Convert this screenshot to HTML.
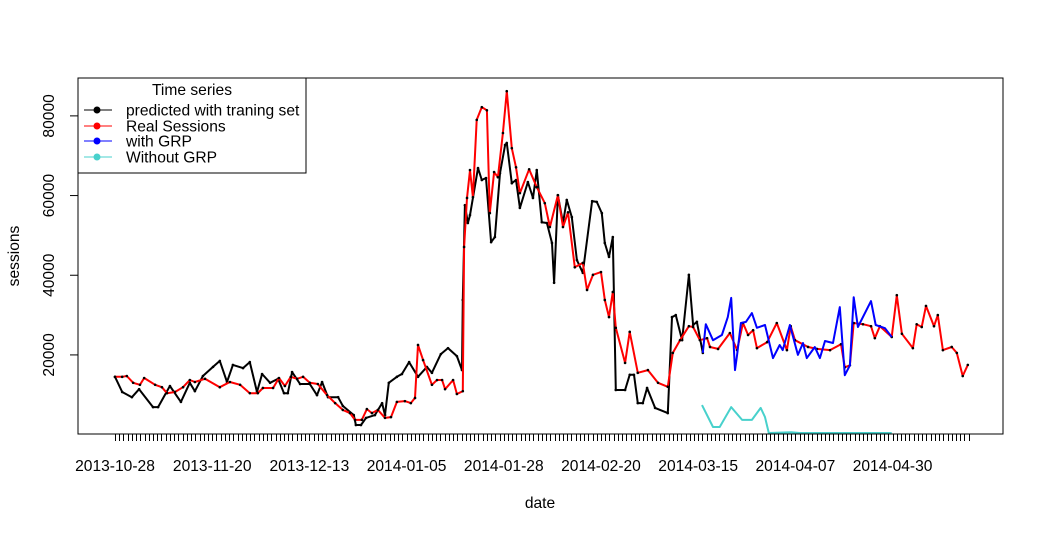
<!DOCTYPE html>
<html><head><meta charset="utf-8"><style>
body{margin:0;background:#fff}
svg text{font-family:"Liberation Sans",Arial,sans-serif;font-size:15.6px;fill:#000}
</style></head><body>
<svg id="chart" width="1045" height="532" viewBox="0 0 1045 532" xmlns="http://www.w3.org/2000/svg">
<rect x="0" y="0" width="1045" height="532" fill="#fff"/>
<g id="marks"></g>
<rect x="78" y="78" width="925" height="356" fill="none" stroke="#000" stroke-width="1"/>
<g id="axes"></g>
<text x="540" y="508" text-anchor="middle">date</text>
<text transform="translate(19,256) rotate(-90)" text-anchor="middle">sessions</text>
<g>
<rect x="78" y="78" width="228" height="95" fill="#fff" stroke="#000"/>
<text x="192" y="95" text-anchor="middle">Time series</text>
<g><line x1="84" y1="110" x2="112" y2="110" stroke="#000"/><circle cx="97" cy="110" r="3.5" fill="#000"/><text x="126" y="115.5">predicted with traning set</text></g>
<g><line x1="84" y1="126" x2="112" y2="126" stroke="#f00"/><circle cx="97" cy="126" r="3.5" fill="#f00"/><text x="126" y="131.5">Real Sessions</text></g>
<g><line x1="84" y1="141" x2="112" y2="141" stroke="#00f"/><circle cx="97" cy="141" r="3.5" fill="#00f"/><text x="126" y="146.5">with GRP</text></g>
<g><line x1="84" y1="157" x2="112" y2="157" stroke="#48d1cc"/><circle cx="97" cy="157" r="3.5" fill="#48d1cc"/><text x="126" y="162.5">Without GRP</text></g>
</g>
</svg>
<script>
// data: days since 2013-10-28, values in thousands of sessions
const predDays=[0,1.7,4,5.7,9,10.2,13,15.6,17.7,18.9,20.8,23.2,24.8,26.5,27.9,30.3,31.9,33.6,34.8,36.7,38.6,40,40.9,41.9,43.8,46.1,47.8,49,50.4,52.8,53.9,56.5,57,58.2,59.4,61.5,63.2,63.9,64.8,66.7,67.9,69.6,71.7,73.8,75,77.1,78.8,80.9,82.1,82.3,82.8,83.5,84,85.9,86.8,87.8,89,89.9,91.1,92.3,92.7,93.9,94.9,95.8,97.7,98.9,99.8,101,102.2,103.4,103.9,104.8,106,106.9,108.1,109.3,110.7,112.9,114,115.2,115.9,116.9,117.8,118.5,120.7,121.8,122.8,123.7,124.9,125.9,127.8,130.8,131.8,132.7,134.2,135.8,136.8,137.7,139.1];
const predVals=[14.5,10.7,9.4,11.4,6.9,6.9,12.2,8.2,13,10.9,14.7,17,18.5,13.2,17.5,16.7,18.2,10.7,15.2,13,14,10.4,10.4,15.7,12.7,12.7,9.9,13.2,9.4,9.4,7.2,4.9,2.4,2.4,4.2,4.9,7.9,4.9,13,14.5,15.2,18.2,14.5,17,15.5,20.2,21.7,19.7,16.2,33.8,57.6,53.1,55.1,66.9,63.9,64.4,48.3,49.6,65.6,72.7,73.2,63.1,63.9,56.9,63.4,59.4,66.4,53.3,53.1,48.1,38.1,60.1,53.1,58.9,54.6,43.8,40.6,58.6,58.4,55.6,48.1,44.6,49.6,11.2,11.2,15,15,7.9,7.9,11.7,6.7,5.4,29.5,30,23.7,40.1,27.5,28.3,20.5];
const realDays=[0,1.7,2.8,4.3,5.9,6.9,9.5,11.1,12.3,14.2,16.1,17.7,18.9,21.3,24.8,27.2,29.6,31.9,33.8,35,37.4,38.8,40.2,41.6,43.1,44.5,46.1,48,50.2,52.1,53.9,55.6,56.8,58.4,59.6,60.8,62.2,63.9,65.3,66.7,68.6,70,71,71.7,72.9,75,76.2,77.4,78.1,80,80.9,82.3,82.6,83.3,84,84.7,85.6,86.8,88,88.7,89.7,90.6,91.8,92.7,93.9,94.9,95.8,98,99.8,101.7,102.9,104.8,106,107.2,108.8,110.7,111.7,113.1,115,115.9,116.9,117.8,118.5,120.7,121.8,123.7,126.1,128.5,130.8,132,133.7,135.8,136.8,138.4,140.1,140.8,142.7,145.5,147.2,148.6,149.8,151,151.9,154.3,156.6,159,159.9,160.9,164,166.1,169.2,171.8,172.7,173.9,174.8,177,178.9,179.8,181,183.8,185,186.2,188.8,189.7,190.9,191.9,193.8,194.7,195.9,198,199.2,200.6,201.8];
const realVals=[14.5,14.5,14.7,13,12.5,14.2,12.5,11.9,10.4,10.7,11.9,13.7,13.2,14,11.9,13.2,12.5,10.4,10.4,11.7,11.7,14.2,12.2,14.5,14,14.5,13,12.7,9.9,7.9,6.2,5.4,3.7,3.7,6.4,5.4,6.2,4.2,4.4,8.2,8.4,7.9,9.2,22.5,18.7,12.5,13.7,13.7,11.4,13.7,10.2,10.9,47.1,59.4,66.4,59.6,79,82.2,81.4,55.6,65.9,64.6,75.7,86.2,71.9,67.1,60.6,66.6,62.1,58.1,52.1,60.1,52.1,55.8,42,43.1,36.3,40.1,40.8,33.8,29.5,35.8,26.8,18,25.8,15.5,16.2,13,12,20.5,23.7,27.2,27,23.7,24.2,22,21.5,25.5,21.2,28,25,26.2,21.7,23.2,28,21.2,27.2,23.7,22,21.5,21.2,22.7,16.9,17.4,28,27.7,27.2,24.2,27.2,24.5,35,25.3,21.7,27.7,27,32.3,27.2,30,21.2,22,20.5,14.7,17.5];
const grpDays=[139.1,139.8,141.5,143.6,145,145.8,146.7,147.2,148.1,149.3,150.7,151.9,153.8,155.7,157.3,158,159.7,161.6,162.8,163.7,165.6,166.8,168,169.9,171.5,172.7,173.9,174.8,175.8,178.9,180,182.2,183.8];
const grpVals=[20.5,27.7,23.7,25,29.5,34.3,16.2,20,28,28.3,30.5,26.8,27.5,19.2,22.5,21.2,27.5,20,23,19.2,22,19.2,23.5,23,32,14.9,17.4,34.5,27,33.5,27.5,26.7,24.5];
const noGrpDays=[138.9,141.5,143.1,145.8,148.4,150.7,152.8,153.8,154.7,160,162,170,183.8];
const noGrpVals=[7.4,1.9,1.9,6.9,3.7,3.7,6.7,4.4,0.4,0.6,0.4,0.4,0.4];
const yTicks=[20000,40000,60000,80000];
const xTickLabels=["2013-10-28","2013-11-20","2013-12-13","2014-01-05","2014-01-28","2014-02-20","2014-03-15","2014-04-07","2014-04-30"];
const xTickDays=[0,23,46,69,92,115,138,161,184];
const lastDay=202;

const NS="http://www.w3.org/2000/svg";
function xs(d){return 115+d*4.226;}
function ys(v){return 434.6-v*3.984;}
const marks=document.getElementById('marks');
const axes=document.getElementById('axes');
function series(days,vals,color,name,dots){
  const p=document.createElementNS(NS,'polyline');
  p.setAttribute('points',days.map((d,i)=>xs(d).toFixed(1)+','+ys(vals[i]).toFixed(1)).join(' '));
  p.setAttribute('fill','none');p.setAttribute('stroke',color);p.setAttribute('stroke-width','2');
  p.setAttribute('stroke-linejoin','round');
  
  
  marks.appendChild(p);
  if(dots){days.forEach((d,i)=>{const c=document.createElementNS(NS,'circle');
    c.setAttribute('cx',xs(d));c.setAttribute('cy',ys(vals[i]));c.setAttribute('r','1.3');c.setAttribute('fill','#000');
    
    
    marks.appendChild(c);});}
}
series(predDays,predVals,'#000','predicted-line',true);
series(realDays,realVals,'#f00','real-sessions-line',true);
series(grpDays,grpVals,'#00f','with-grp-line',false);
series(noGrpDays,noGrpVals,'#48d1cc','without-grp-line',false);
// y axis
yTicks.forEach(v=>{
  const y=ys(v/1000);
  const l=document.createElementNS(NS,'line');
  l.setAttribute('x1',70);l.setAttribute('x2',78);l.setAttribute('y1',y);l.setAttribute('y2',y);l.setAttribute('stroke','#000');
  
  
  axes.appendChild(l);
  const t=document.createElementNS(NS,'text');
  t.setAttribute('transform','translate(54,'+y+') rotate(-90)');t.setAttribute('text-anchor','middle');
  t.textContent=v;
  
  
  axes.appendChild(t);
});
// x axis daily ticks
for(let d=0;d<=lastDay;d++){
  const x=Math.round(xs(d))+0.5;
  const l=document.createElementNS(NS,'line');
  l.setAttribute('x1',x);l.setAttribute('x2',x);l.setAttribute('y1',434);l.setAttribute('y2',441);l.setAttribute('stroke','#000');
  
  
  axes.appendChild(l);
}
xTickDays.forEach((d,i)=>{
  const t=document.createElementNS(NS,'text');
  t.setAttribute('x',xs(d));t.setAttribute('y',471);t.setAttribute('text-anchor','middle');
  t.textContent=xTickLabels[i];
  
  
  axes.appendChild(t);
});
</script>
</body></html>
